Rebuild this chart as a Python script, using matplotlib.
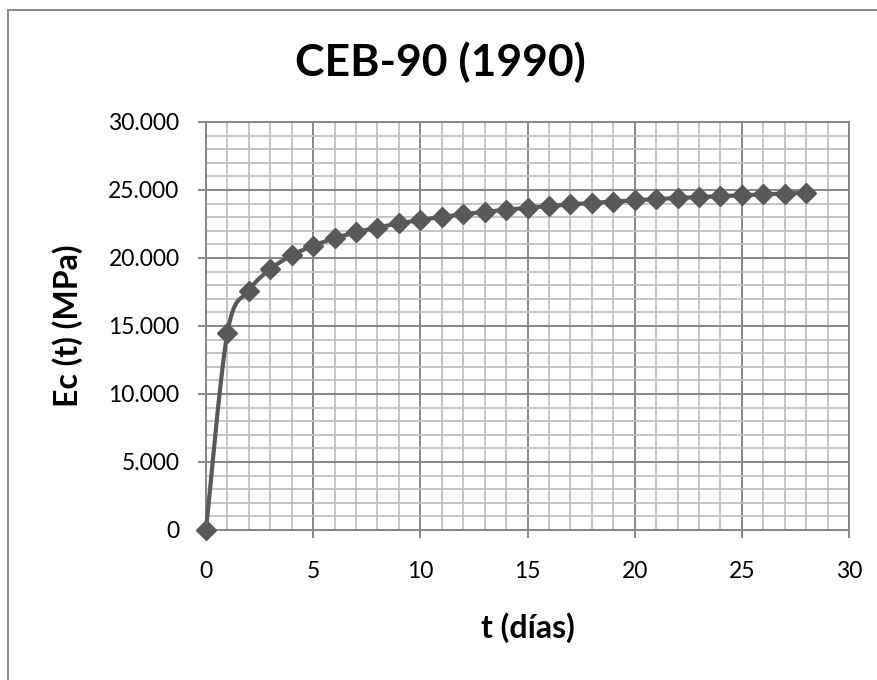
import numpy as np
import matplotlib.pyplot as plt
from matplotlib.patches import Rectangle
from matplotlib.ticker import FuncFormatter, MultipleLocator

plt.rcParams['font.family'] = ['Lato', 'DejaVu Sans']

# datos
t_dias = [0, 1, 2, 3, 4, 5, 6, 7, 8, 9, 10, 11, 12, 13, 14, 15, 16, 17, 18, 19,
          20, 21, 22, 23, 24, 25, 26, 27, 28]
ec_mpa = [0, 14500, 17600, 19180, 20190, 20900, 21450, 21890, 22240, 22540,
          22800, 23020, 23220, 23390, 23550, 23690, 23820, 23940, 24050, 24150,
          24240, 24330, 24410, 24480, 24550, 24620, 24680, 24740, 24800]

gris = '#595959'


def suavizado(x, y, n=30):
    # curva suavizada tipo Excel (Bezier / Catmull-Rom)
    x = np.asarray(x, float)
    y = np.asarray(y, float)
    px = np.concatenate([[x[0]], x, [x[-1]]])
    py = np.concatenate([[y[0]], y, [y[-1]]])
    xs, ys = [], []
    s = np.linspace(0, 1, n)
    for i in range(1, len(px) - 2):
        p0 = np.array([px[i], py[i]])
        p3 = np.array([px[i + 1], py[i + 1]])
        p1 = p0 + (np.array([px[i + 1], py[i + 1]]) - np.array([px[i - 1], py[i - 1]])) / 6
        p2 = p3 - (np.array([px[i + 2], py[i + 2]]) - np.array([px[i], py[i]])) / 6
        b = ((1 - s) ** 3)[:, None] * p0 + (3 * (1 - s) ** 2 * s)[:, None] * p1 \
            + (3 * (1 - s) * s ** 2)[:, None] * p2 + (s ** 3)[:, None] * p3
        xs.extend(b[:, 0])
        ys.extend(b[:, 1])
    return xs, ys


fig = plt.figure(figsize=(8.78, 6.8), dpi=100)
ax = fig.add_axes([0.2346, 0.2206, 0.7324, 0.6])

xs, ys = suavizado(t_dias, ec_mpa)
ax.plot(xs, ys, color=gris, lw=3, zorder=3, clip_on=False)
ax.plot(t_dias, ec_mpa, ls='none', marker='D', ms=9.8, color=gris, zorder=4, clip_on=False)

ax.set_xlim(0, 30)
ax.set_ylim(0, 30000)
ax.xaxis.set_major_locator(MultipleLocator(5))
ax.xaxis.set_minor_locator(MultipleLocator(1))
ax.yaxis.set_major_locator(MultipleLocator(5000))
ax.yaxis.set_minor_locator(MultipleLocator(1000))
ax.yaxis.set_major_formatter(FuncFormatter(lambda v, p: '0' if v == 0 else f'{v:,.0f}'.replace(',', '.')))

ax.grid(which='major', color='#878787', lw=1.4)
ax.grid(which='minor', color='#c0c0c0', lw=1.3)
ax.set_axisbelow(True)
for sp in ax.spines.values():
    sp.set_color('#878787')
    sp.set_linewidth(1.4)

ax.tick_params(which='major', length=6, width=1.4, color='#878787', labelsize=16.5, direction='out')
ax.tick_params(axis='y', pad=13)
ax.tick_params(axis='x', pad=16)
ax.tick_params(which='minor', length=0)

ax.set_xlabel('t (días)', fontsize=23, fontweight='bold', labelpad=22)
ax.set_ylabel('Ec (t) (MPa)', fontsize=23, fontweight='bold', labelpad=18)
fig.text(0.502, 0.909, 'CEB-90 (1990)', fontsize=32, fontweight='bold', ha='center', va='center')

fig.patches.append(Rectangle((8 / 878, -0.1), 2, 670 / 680 + 0.1, transform=fig.transFigure,
                             fill=False, edgecolor='#878787', lw=1.4))

fig.savefig('out.png', dpi=100)
